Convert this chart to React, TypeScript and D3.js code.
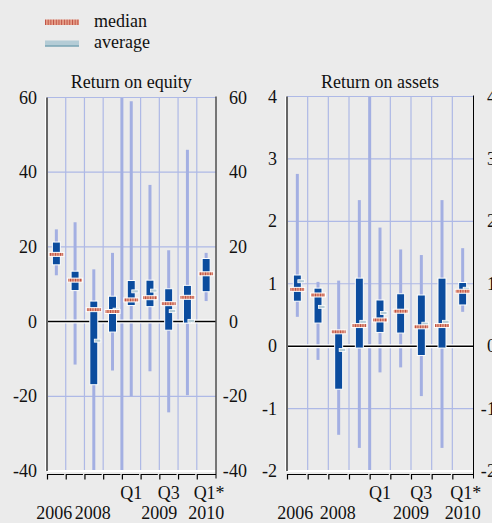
import React from "react";
import * as d3 from "d3";

const categories = ["2006", "2007", "2008", "2009", "Q1 2009", "Q2 2009", "Q3 2009", "Q4 2009", "Q1 2010*"];

// Return on equity
const roeLow = [12.4, -11.5, -40, -13.1, -20, -13.3, -24.3, -19.7, 5.5];
const roeHigh = [24.7, 26.6, 14, 18.4, 59, 36.6, 19.1, 46, 18.4];
const roeBoxLow = [15.2, 8.3, -16.9, -2.8, 4.3, 4.0, -2.3, -0.4, 8.0];
const roeBoxHigh = [21.3, 13.5, 5.5, 6.8, 11.0, 11.1, 8.8, 9.7, 16.9];
const roeMedian = [18.0, 11.1, 3.2, 2.7, 5.8, 6.4, 4.8, 6.5, 12.8];
const roeAverage = [18.0, 11.1, -5.1, 3.2, 8.1, 8.3, 2.8, 0.2, 12.8];
const roeTicks = [60, 40, 20, 0, -20, -40];

// Return on assets
const roaLow = [0.47, -0.22, -1.42, -1.63, -0.42, -0.34, -0.8, -1.63, 0.55];
const roaHigh = [2.76, 1.03, 1.05, 2.34, 1.9, 1.55, 1.46, 2.34, 1.57];
const roaBoxLow = [0.72, 0.37, -0.69, -0.03, 0.22, 0.21, -0.15, -0.03, 0.66];
const roaBoxHigh = [1.14, 0.93, 0.23, 1.09, 0.74, 0.84, 0.82, 1.09, 1.02];
const roaMedian = [0.91, 0.82, 0.23, 0.33, 0.42, 0.56, 0.31, 0.33, 0.88];
const roaAverage = [1.04, 0.63, -0.06, 0.39, 0.53, 0.56, 0.36, 0.39, 0.92];
const roaTicks = [4, 3, 2, 1, 0, -1, -2];

// x labels
const upperLabels = [
  { cat: "Q1 2009", text: "Q1" },
  { cat: "Q3 2009", text: "Q3" },
  { cat: "Q1 2010*", text: "Q1*" },
];
const lowerLabels = [
  { from: "2006", to: "2006", text: "2006" },
  { from: "2008", to: "2008", text: "2008" },
  { from: "Q1 2009", to: "Q4 2009", text: "2009" },
  { from: "Q1 2010*", to: "Q1 2010*", text: "2010" },
];

const FONT = "'Liberation Serif', 'Times New Roman', serif";
const FS = 18;
const GRID = "#aeb9e6";
const WHISK = "#a3afe2";
const BOX = "#0b4c9e";

type PanelProps = {
  title: string;
  x0: number;
  x1: number;
  top: number;
  bottom: number;
  domain: [number, number];
  ticks: number[];
  low: number[];
  high: number[];
  boxLow: number[];
  boxHigh: number[];
  median: number[];
  average: number[];
  leftLabelX: number;
  rightLabelX: number;
};

function Panel(p: PanelProps) {
  const x = d3.scaleBand<string>().domain(categories).range([p.x0, p.x1]).padding(0);
  const y = d3.scaleLinear().domain(p.domain).range([p.bottom, p.top]);
  const bw = x.bandwidth();
  const cx = (c: string) => (x(c) as number) + bw / 2;
  const fmt = (v: number) => (v < 0 ? "-" + Math.abs(v) : String(v));
  const boundaries = categories.slice(1).map((c) => x(c) as number);
  const sepX = x("Q1 2009") as number;
  const tickY = p.bottom + 3.5;
  const lowerNudge: Record<string, number> = { "2006": -2, "2008": -1 };

  return (
    <g>
      <text x={(p.x0 + p.x1) / 2} y={88} textAnchor="middle" fontFamily={FONT} fontSize={FS} fill="#111">
        {p.title}
      </text>
      {/* horizontal grid */}
      {p.ticks
        .filter((t) => t !== 0 && t !== p.domain[0])
        .map((t) => (
          <line key={"h" + t} x1={p.x0} x2={p.x1} y1={y(t)} y2={y(t)} stroke={GRID} strokeWidth={1.2} />
        ))}
      {/* vertical grid */}
      {boundaries.map((b, i) => (
        <line key={"v" + i} x1={b} x2={b} y1={p.top} y2={p.bottom} stroke={GRID} strokeWidth={1.2} />
      ))}
      {/* separator between annual and quarterly */}
      <line x1={sepX} x2={sepX} y1={p.top} y2={p.bottom} stroke={WHISK} strokeWidth={3} />
      {/* whiskers */}
      {categories.map((c, i) => (
        <line
          key={"w" + i}
          x1={cx(c)}
          x2={cx(c)}
          y1={y(Math.min(p.high[i], p.domain[1]))}
          y2={y(Math.max(p.low[i], p.domain[0]))}
          stroke={WHISK}
          strokeWidth={3}
        />
      ))}
      {/* zero line */}
      <line x1={p.x0} x2={p.x1} y1={y(0)} y2={y(0)} stroke="#fff" strokeWidth={4} />
      <line x1={p.x0} x2={p.x1} y1={y(0)} y2={y(0)} stroke="#000" strokeWidth={1.5} />
      {/* boxes */}
      {categories.map((c, i) => (
        <rect
          key={"b" + i}
          x={cx(c) - 4}
          y={y(p.boxHigh[i])}
          width={8}
          height={y(p.boxLow[i]) - y(p.boxHigh[i])}
          fill={BOX}
          stroke="#fff"
          strokeWidth={1}
        />
      ))}
      {/* averages */}
      {categories.map((c, i) => (
        <rect
          key={"a" + i}
          x={cx(c) + 0.5}
          y={y(p.average[i]) - 1.5}
          width={6.5}
          height={3}
          fill="#b6cdd7"
          stroke="#fff"
          strokeWidth={0.8}
        />
      ))}
      {/* medians */}
      {categories.map((c, i) => (
        <rect
          key={"m" + i}
          x={cx(c) - 7.5}
          y={y(p.median[i]) - 2}
          width={15}
          height={4}
          fill="url(#medPat)"
          stroke="#fff"
          strokeWidth={1}
        />
      ))}
      {/* frame */}
      <line x1={p.x0} x2={p.x1} y1={p.top} y2={p.top} stroke={GRID} strokeWidth={1.2} />
      <line x1={p.x0} x2={p.x1} y1={p.bottom} y2={p.bottom} stroke="#fff" strokeWidth={2} />
      <line x1={p.x0 - 1.5} x2={p.x0 - 1.5} y1={p.top} y2={p.bottom} stroke="#fff" strokeWidth={1} />
      <line x1={p.x0} x2={p.x0} y1={p.top} y2={p.bottom} stroke="#666" strokeWidth={2} />
      <line x1={p.x1 + 0.5} x2={p.x1 + 0.5} y1={p.top - 1} y2={tickY + 4} stroke="#000" strokeWidth={1} />
      {/* bottom ticks */}
      {categories.map((c, i) => {
        const a = x(c) as number;
        const b = a + bw;
        const last = i === categories.length - 1;
        return (
          <path
            key={"t" + i}
            d={`M${a + 0.5},${tickY + 5}V${tickY}H${last ? b + 0.5 : b - 1.5}`}
            fill="none"
            stroke="#000"
            strokeWidth={1.2}
          />
        );
      })}
      {/* y labels */}
      {p.ticks.map((t) => (
        <text
          key={"l" + t}
          x={p.leftLabelX}
          y={y(t) + 6}
          textAnchor="end"
          fontFamily={FONT}
          fontSize={FS}
          fill="#111"
        >
          {fmt(t)}
        </text>
      ))}
      {p.ticks.map((t) => (
        <g key={"r" + t}>
          {t < 0 && (
            <text x={p.rightLabelX - 0.3} y={y(t) + 6} textAnchor="end" fontFamily={FONT} fontSize={FS} fill="#111">
              -
            </text>
          )}
          <text x={p.rightLabelX} y={y(t) + 6} textAnchor="start" fontFamily={FONT} fontSize={FS} fill="#111">
            {String(Math.abs(t))}
          </text>
        </g>
      ))}
      {/* x labels */}
      {upperLabels.map((l) => (
        <text
          key={"u" + l.text}
          x={cx(l.cat) + (l.text === "Q1*" ? 3 : 0)}
          y={499}
          textAnchor="middle"
          fontFamily={FONT}
          fontSize={FS}
          fill="#111"
        >
          {l.text}
        </text>
      ))}
      {lowerLabels.map((l) => (
        <text
          key={"lo" + l.text}
          x={((x(l.from) as number) + (x(l.to) as number) + bw) / 2 + (lowerNudge[l.text] || 0)}
          y={519}
          textAnchor="middle"
          fontFamily={FONT}
          fontSize={FS}
          fill="#111"
        >
          {l.text}
        </text>
      ))}
    </g>
  );
}

export default function App() {
  return (
    <svg
      width={492}
      height={523}
      style={{ position: "absolute", left: 0, top: 0, display: "block" }}
      xmlns="http://www.w3.org/2000/svg"
    >
      <defs>
        <pattern id="medPat" patternUnits="userSpaceOnUse" width={2.5} height={4}>
          <rect width={2.5} height={4} fill="#e6a08a" />
          <line x1={0.5} x2={0.5} y1={0} y2={4} stroke="#b8473a" strokeWidth={0.9} />
        </pattern>
        <pattern id="medPatL" patternUnits="userSpaceOnUse" width={2.7} height={6} x={45} y={19}>
          <rect width={2.7} height={6} fill="#e6a08a" />
          <line x1={0.5} x2={0.5} y1={0} y2={6} stroke="#b8473a" strokeWidth={0.9} />
        </pattern>
      </defs>
      <rect width={492} height={523} fill="#ebebeb" />
      {/* legend */}
      <rect x={45} y={19.5} width={34} height={5.5} fill="url(#medPatL)" />
      <text x={94} y={26.5} fontFamily={FONT} fontSize={FS} fill="#111">median</text>
      <rect x={45} y={40.5} width={34} height={6} fill="#b4ccd6" />
      <line x1={45} x2={79} y1={46} y2={46} stroke="#5b8fa2" strokeWidth={1.2} />
      <text x={94} y={47.5} fontFamily={FONT} fontSize={FS} fill="#111">average</text>

      <Panel
        title="Return on equity"
        x0={47}
        x1={215.5}
        top={97.5}
        bottom={471}
        domain={[-40, 60]}
        ticks={roeTicks}
        low={roeLow}
        high={roeHigh}
        boxLow={roeBoxLow}
        boxHigh={roeBoxHigh}
        median={roeMedian}
        average={roeAverage}
        leftLabelX={37}
        rightLabelX={229}
      />
      <Panel
        title="Return on assets"
        x0={287}
        x1={473}
        top={96.5}
        bottom={471}
        domain={[-2, 4]}
        ticks={roaTicks}
        low={roaLow}
        high={roaHigh}
        boxLow={roaBoxLow}
        boxHigh={roaBoxHigh}
        median={roaMedian}
        average={roaAverage}
        leftLabelX={277}
        rightLabelX={487}
      />
    </svg>
  );
}
